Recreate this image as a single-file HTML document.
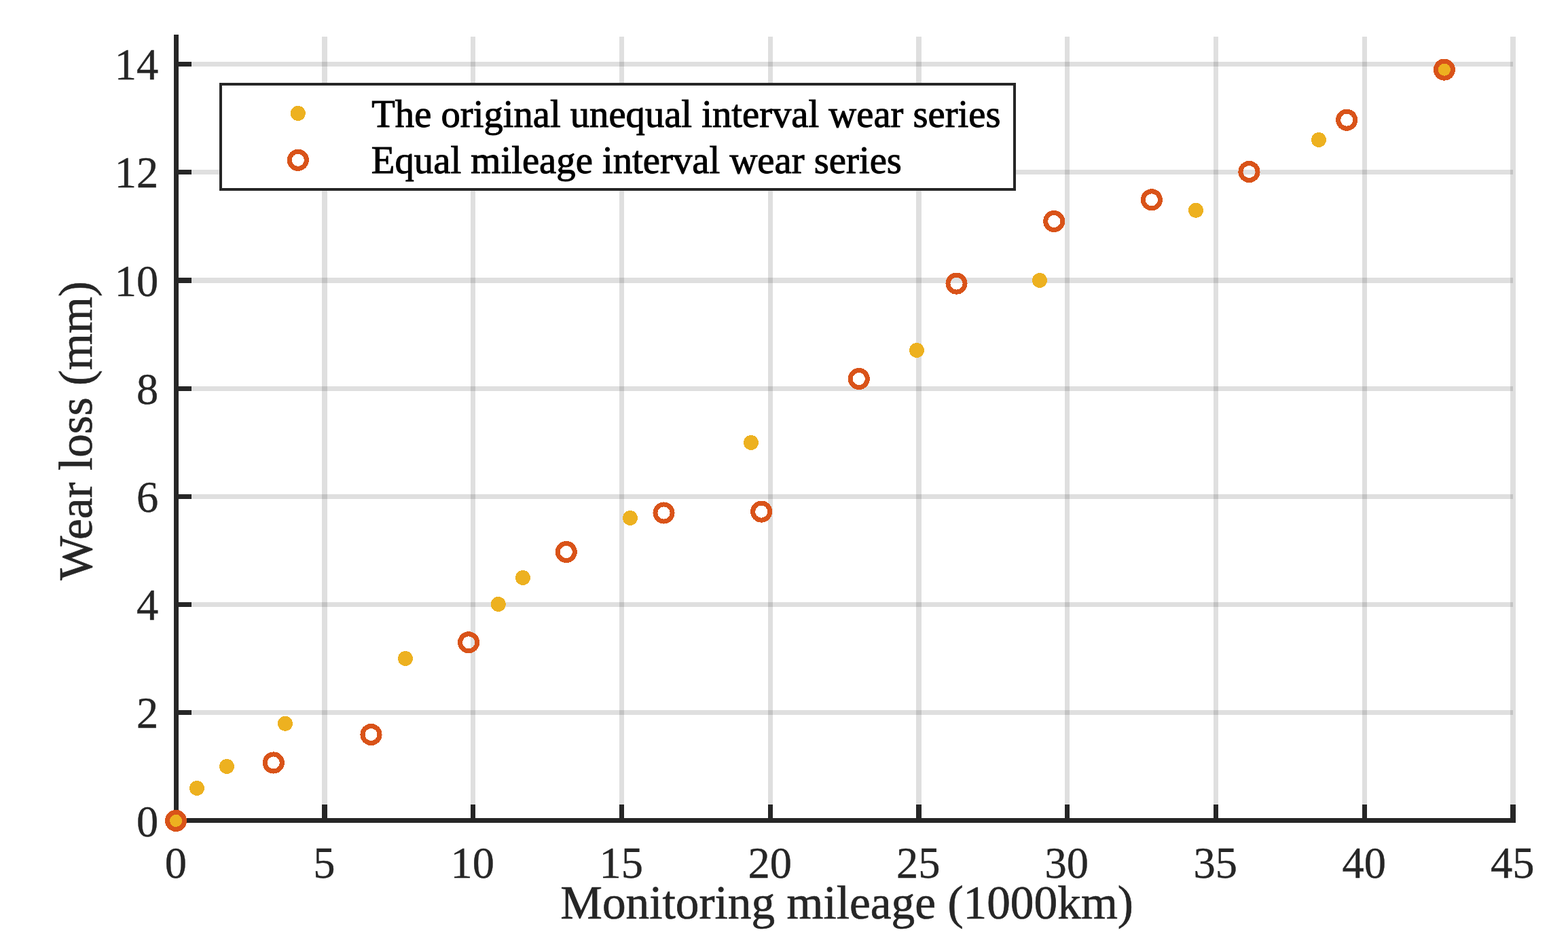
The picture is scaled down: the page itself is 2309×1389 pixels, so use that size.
<!DOCTYPE html>
<html lang="en"><head><meta charset="utf-8"><title>Wear loss vs monitoring mileage</title>
<style>html,body{margin:0;padding:0;background:#fff;}body{width:2309px;height:1389px;overflow:hidden;}svg{display:block;}text{font-family:"Liberation Serif",serif;}</style>
</head><body>
<svg width="2309" height="1389" viewBox="0 0 2309 1389">
<rect x="0" y="0" width="2309" height="1389" fill="#ffffff"/>
<g fill="#262626" fill-opacity="0.15" shape-rendering="crispEdges">
<rect x="474" y="54" width="8" height="1151"/>
<rect x="693" y="54" width="7" height="1151"/>
<rect x="912" y="54" width="7" height="1151"/>
<rect x="1131" y="54" width="7" height="1151"/>
<rect x="1349" y="54" width="8" height="1151"/>
<rect x="1568" y="54" width="7" height="1151"/>
<rect x="1787" y="54" width="7" height="1151"/>
<rect x="2006" y="54" width="7" height="1151"/>
<rect x="2224" y="54" width="8" height="1151"/>
<rect x="263" y="1046" width="1965" height="7"/>
<rect x="263" y="887" width="1965" height="7"/>
<rect x="263" y="728" width="1965" height="7"/>
<rect x="263" y="569" width="1965" height="7"/>
<rect x="263" y="409" width="1965" height="8"/>
<rect x="263" y="250" width="1965" height="7"/>
<rect x="263" y="91" width="1965" height="7"/>
</g>
<g fill="#262626" shape-rendering="crispEdges">
<rect x="256" y="51" width="7" height="1161"/>
<rect x="256" y="1205" width="1976" height="7"/>
<rect x="474" y="1185" width="8" height="21"/>
<rect x="693" y="1185" width="7" height="21"/>
<rect x="912" y="1185" width="7" height="21"/>
<rect x="1131" y="1185" width="7" height="21"/>
<rect x="1349" y="1185" width="8" height="21"/>
<rect x="1568" y="1185" width="7" height="21"/>
<rect x="1787" y="1185" width="7" height="21"/>
<rect x="2006" y="1185" width="7" height="21"/>
<rect x="2224" y="1185" width="8" height="21"/>
<rect x="262" y="1046" width="20" height="7"/>
<rect x="262" y="887" width="20" height="7"/>
<rect x="262" y="728" width="20" height="7"/>
<rect x="262" y="569" width="20" height="7"/>
<rect x="262" y="409" width="20" height="8"/>
<rect x="262" y="250" width="20" height="7"/>
<rect x="262" y="91" width="20" height="7"/>
</g>
<g fill="#262626" stroke="#262626" stroke-width="0.4" font-size="64.5px">
<g text-anchor="middle">
<text x="258.8" y="1293">0</text>
<text x="477.3" y="1293">5</text>
<text x="695.8" y="1293">10</text>
<text x="914.8" y="1293">15</text>
<text x="1133.8" y="1293">20</text>
<text x="1352.3" y="1293">25</text>
<text x="1570.8" y="1293">30</text>
<text x="1789.8" y="1293">35</text>
<text x="2008.8" y="1293">40</text>
<text x="2227.3" y="1293">45</text>
</g><g text-anchor="end">
<text x="233.3" y="1232">0</text>
<text x="233.3" y="1072">2</text>
<text x="233.3" y="913">4</text>
<text x="233.3" y="754">6</text>
<text x="233.3" y="595">8</text>
<text x="233.3" y="436">10</text>
<text x="233.3" y="276">12</text>
<text x="233.3" y="117">14</text>
</g></g>
<g fill="#262626" stroke="#262626" stroke-width="0.7" font-size="69.0px">
<text x="825.24" y="1353" textLength="843.72" lengthAdjust="spacingAndGlyphs">Monitoring mileage (1000km)</text>
<text transform="translate(135.2,854.81) rotate(-90)" font-size="70.3px" textLength="440.72" lengthAdjust="spacingAndGlyphs">Wear loss (mm)</text>
</g>
<g fill="#EDB120" shape-rendering="crispEdges">
<circle cx="259.5" cy="1208.5" r="11"/>
<circle cx="290.0" cy="1161.0" r="11"/>
<circle cx="334.0" cy="1129.0" r="11"/>
<circle cx="420.0" cy="1065.7" r="11"/>
<circle cx="597.0" cy="970.0" r="11"/>
<circle cx="733.7" cy="890.0" r="11"/>
<circle cx="770.0" cy="851.0" r="11"/>
<circle cx="928.0" cy="763.0" r="11"/>
<circle cx="1106.0" cy="652.0" r="11"/>
<circle cx="1350.0" cy="516.0" r="11"/>
<circle cx="1531.0" cy="413.0" r="11"/>
<circle cx="1761.0" cy="309.7" r="11"/>
<circle cx="1942.0" cy="206.0" r="11"/>
<circle cx="2127.0" cy="102.6" r="11"/>
</g>
<g fill="none" stroke="#D95319" stroke-width="7" shape-rendering="crispEdges">
<circle cx="259.1" cy="1208.9" r="12.55"/>
<circle cx="402.8" cy="1123.5" r="12.55"/>
<circle cx="546.5" cy="1082.0" r="12.55"/>
<circle cx="690.1" cy="946.3" r="12.55"/>
<circle cx="833.8" cy="813.0" r="12.55"/>
<circle cx="977.5" cy="755.5" r="12.55"/>
<circle cx="1121.2" cy="753.6" r="12.55"/>
<circle cx="1264.8" cy="558.0" r="12.55"/>
<circle cx="1408.5" cy="417.6" r="12.55"/>
<circle cx="1552.2" cy="326.0" r="12.55"/>
<circle cx="1695.9" cy="294.3" r="12.55"/>
<circle cx="1839.5" cy="253.0" r="12.55"/>
<circle cx="1983.2" cy="176.7" r="12.55"/>
<circle cx="2126.9" cy="102.6" r="12.55"/>
</g>
<rect x="325" y="124" width="1169" height="155" fill="#ffffff" stroke="#262626" stroke-width="4" shape-rendering="crispEdges"/>
<circle cx="438.8" cy="166.9" r="11" fill="#EDB120" shape-rendering="crispEdges"/>
<circle cx="438.8" cy="235.8" r="12.55" fill="none" stroke="#D95319" stroke-width="7" shape-rendering="crispEdges"/>
<g fill="#000000" stroke="#000000" stroke-width="1.0" font-size="56.5px">
<text x="547.27" y="187" textLength="926.26" lengthAdjust="spacingAndGlyphs">The original unequal interval wear series</text>
<text x="546.86" y="255" textLength="781.02" lengthAdjust="spacingAndGlyphs">Equal mileage interval wear series</text>
</g>
</svg>
</body></html>
